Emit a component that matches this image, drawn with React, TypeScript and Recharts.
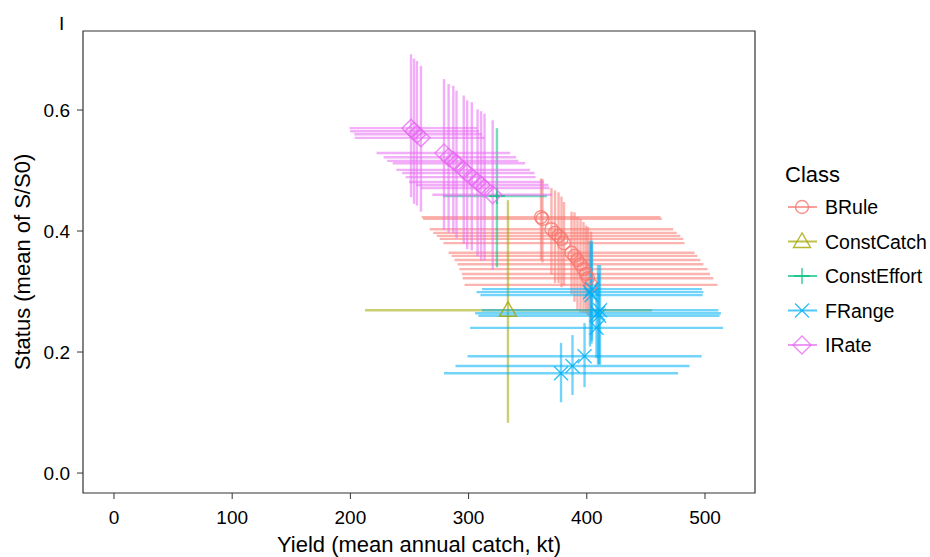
import React from "react";
import { ScatterChart, Scatter, XAxis, YAxis, ErrorBar, ReferenceArea, Legend, Label } from "recharts";

// BRule
const bruleYield = [361.3, 362.5, 370.1, 373.1, 376.1, 378.6, 380.7, 387.1, 389.6, 392.1, 394.7, 397.2, 399.3, 401.0, 403.6];
const bruleStatus = [0.423, 0.42, 0.403, 0.397, 0.392, 0.387, 0.38, 0.364, 0.359, 0.352, 0.345, 0.337, 0.329, 0.322, 0.311];
const bruleYieldErr = [101, 101, 103, 103, 103, 103, 102, 104, 104, 104, 104, 105, 105, 106, 107];
const bruleStatusErr = [
    [0.071, 0.064], [0.072, 0.066], [0.075, 0.068], [0.083, 0.07], [0.078, 0.072],
    [0.08, 0.07], [0.07, 0.068], [0.068, 0.068], [0.076, 0.072], [0.083, 0.071],
    [0.08, 0.075], [0.072, 0.078], [0.065, 0.08], [0.062, 0.085], [0.06, 0.088],
];

// ConstCatch
const catchYield = [333.3];
const catchStatus = [0.269];
const catchYieldErr = [[120.9, 121.9]];
const catchStatusErr = [[0.186, 0.182]];

// ConstEffort
const effortYield = [324.0];
const effortStatus = [0.458];
const effortYieldErr = [[45.7, 42.3]];
const effortStatusErr = [[0.118, 0.112]];

// FRange
const frangeYield = [404.4, 402.7, 404.0, 411.2, 409.5, 410.3, 408.2, 398.1, 387.9, 378.2];
const frangeStatus = [0.304, 0.299, 0.294, 0.269, 0.264, 0.26, 0.24, 0.193, 0.177, 0.165];
const frangeYieldErr = [93, 96, 94, 100, 104, 102, 107, 99, 99, 99];
const frangeStatusErr = [
    [0.085, 0.08], [0.09, 0.085], [0.08, 0.085], [0.09, 0.075], [0.085, 0.08],
    [0.08, 0.07], [0.05, 0.075], [0.051, 0.055], [0.048, 0.051], [0.048, 0.05],
];

// IRate
const irateYield = [251.3, 253.8, 256.3, 259.7, 279.2, 283.1, 287.1, 289.8, 295.9, 298.8, 302.7, 307.6, 310.6, 313.5, 320.4];
const irateStatus = [0.57, 0.565, 0.56, 0.554, 0.529, 0.522, 0.516, 0.512, 0.501, 0.496, 0.489, 0.481, 0.476, 0.471, 0.46];
const irateYieldErr = [
    [52, 56], [54, 55], [53, 55], [56, 54], [57, 56], [55, 57], [56, 55], [54, 58],
    [57, 56], [55, 57], [56, 54], [58, 56], [55, 57], [54, 55], [51, 50],
];
const irateStatusErr = [
    [0.114, 0.122], [0.12, 0.12], [0.118, 0.121], [0.122, 0.119], [0.127, 0.122],
    [0.125, 0.121], [0.12, 0.124], [0.124, 0.12], [0.122, 0.123], [0.126, 0.12],
    [0.121, 0.124], [0.123, 0.12], [0.125, 0.122], [0.12, 0.123], [0.124, 0.123],
];

const xTicks = [0, 100, 200, 300, 400, 500];
const yTicks = [0, 0.2, 0.4, 0.6];
const xDomain = [-26.2, 542.3];
const yDomain = [-0.033, 0.7306];

type Err = number | number[];
const rows = (xs: number[], ys: number[], exs: Err[], eys: Err[]) =>
    xs.map((x, i) => ({ x, y: ys[i], ex: exs[i], ey: eys[i] }));

const series = [
    { name: "BRule", color: "#F8766D", marker: "circle", data: rows(bruleYield, bruleStatus, bruleYieldErr, bruleStatusErr) },
    { name: "ConstCatch", color: "#A3A500", marker: "triangle", data: rows(catchYield, catchStatus, catchYieldErr, catchStatusErr) },
    { name: "ConstEffort", color: "#00BF7D", marker: "plus", data: rows(effortYield, effortStatus, effortYieldErr, effortStatusErr) },
    { name: "FRange", color: "#00B0F6", marker: "cross", data: rows(frangeYield, frangeStatus, frangeYieldErr, frangeStatusErr) },
    { name: "IRate", color: "#E76BF3", marker: "diamond", data: rows(irateYield, irateStatus, irateYieldErr, irateStatusErr) },
];

const LINE_OPACITY = 0.55;
const LINE_WIDTH = 2.4;

const Marker = ({ kind, cx, cy, color }: { kind: string; cx: number; cy: number; color: string }) => {
    const common = { fill: "none", stroke: color, strokeWidth: 1.4, strokeOpacity: 0.8 };
    switch (kind) {
        case "circle":
            return <circle cx={cx} cy={cy} r={6.5} {...common} />;
        case "triangle":
            return <polygon points={`${cx},${cy - 8.5} ${cx - 8.5},${cy + 6} ${cx + 8.5},${cy + 6}`} {...common} />;
        case "plus":
            return <path d={`M${cx - 8},${cy}H${cx + 8}M${cx},${cy - 8}V${cy + 8}`} {...common} />;
        case "cross":
            return <path d={`M${cx - 7},${cy - 7}L${cx + 7},${cy + 7}M${cx - 7},${cy + 7}L${cx + 7},${cy - 7}`} {...common} />;
        default:
            return <polygon points={`${cx},${cy - 9} ${cx + 9},${cy} ${cx},${cy + 9} ${cx - 9},${cy}`} {...common} />;
    }
};

const renderLegend = () => (
    <svg width={150} height={215} style={{ display: "block", overflow: "visible" }}>
        <text x={5} y={24} dominantBaseline="central" fontSize={22} fill="#000">Class</text>
        {series.map((s, i) => {
            const cy = 57 + i * 34.5;
            return (
                <g key={s.name}>
                    <line x1={8} x2={37} y1={cy} y2={cy} stroke={s.color} strokeWidth={2} strokeOpacity={0.7} />
                    <Marker kind={s.marker} cx={22} cy={cy} color={s.color} />
                    <text x={45} y={cy} dominantBaseline="central" fontSize={19.5} fill="#000">{s.name}</text>
                </g>
            );
        })}
    </svg>
);

const YTitle = () => (
    <text x={22} y={262} transform="rotate(-90 22 262)" textAnchor="middle" dominantBaseline="central" fontSize={22} fill="#000">
        Status (mean of S/S0)
    </text>
);

const App: React.FC = () => {
    return (
        <div style={{ position: "absolute", left: 0, top: 0, width: 930, height: 557, fontFamily: "'Liberation Sans', Arial, sans-serif", background: "#fff" }}>
            <span style={{ position: "absolute", left: 59, top: 14, fontSize: 19, lineHeight: "19px" }}>I</span>
            <ScatterChart width={930} height={557} margin={{ top: 31, right: 175, left: 0, bottom: 0 }}>
                <XAxis
                    type="number"
                    dataKey="x"
                    domain={xDomain}
                    ticks={xTicks}
                    allowDataOverflow
                    height={64}
                    axisLine={false}
                    tickLine={{ stroke: "#333" }}
                    tickSize={6}
                    tickMargin={12}
                    tick={{ fill: "#000", fontSize: 19 }}
                >
                    <Label value="Yield (mean annual catch, kt)" position="insideBottom" offset={5} fill="#000" fontSize={22} />
                </XAxis>
                <YAxis
                    type="number"
                    dataKey="y"
                    domain={yDomain}
                    ticks={yTicks}
                    allowDataOverflow
                    width={83}
                    axisLine={false}
                    tickLine={{ stroke: "#333" }}
                    tickSize={6}
                    tickMargin={7}
                    tick={{ fill: "#000", fontSize: 19 }}
                    tickFormatter={(v: number) => v.toFixed(1)}
                >
                    <Label content={<YTitle />} />
                </YAxis>
                <ReferenceArea
                    x1={xDomain[0]}
                    x2={xDomain[1]}
                    y1={yDomain[0]}
                    y2={yDomain[1]}
                    fill="none"
                    stroke="#333"
                    strokeWidth={1.2}
                    ifOverflow="visible"
                />
                {series.map((s) => (
                    <Scatter
                        key={s.name}
                        name={s.name}
                        data={s.data}
                        isAnimationActive={false}
                        shape={(p: any) => <Marker kind={s.marker} cx={p.cx} cy={p.cy} color={s.color} />}
                    >
                        <ErrorBar dataKey="ex" direction="x" width={0} stroke={s.color} strokeWidth={LINE_WIDTH} strokeOpacity={LINE_OPACITY} isAnimationActive={false} />
                        <ErrorBar dataKey="ey" direction="y" width={0} stroke={s.color} strokeWidth={LINE_WIDTH} strokeOpacity={LINE_OPACITY} isAnimationActive={false} />
                    </Scatter>
                ))}
                <Legend
                    content={renderLegend}
                    layout="vertical"
                    align="center"
                    verticalAlign="middle"
                    wrapperStyle={{ left: 780, top: 150, width: 150, height: 215 }}
                />
            </ScatterChart>
        </div>
    );
};

export default App;
